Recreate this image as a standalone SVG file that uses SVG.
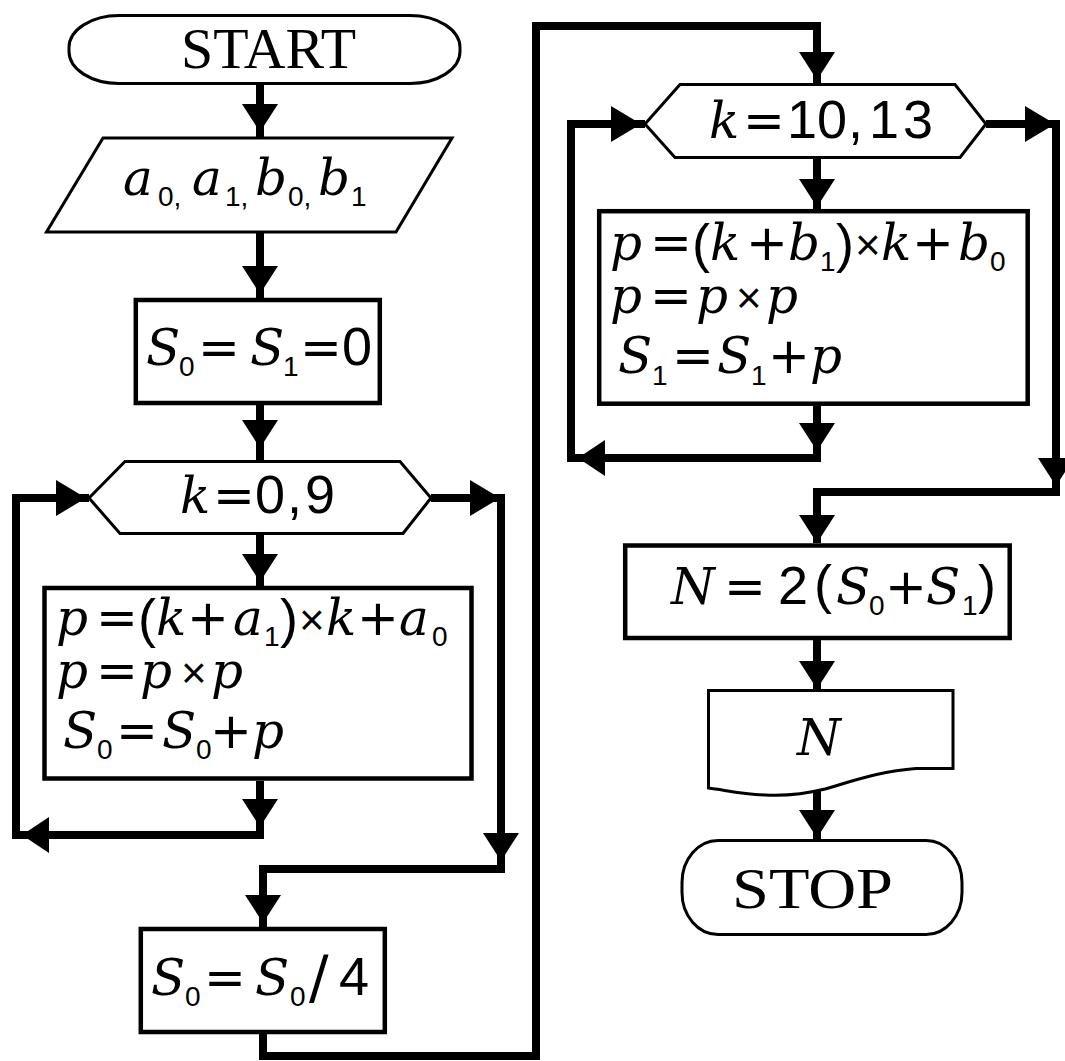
<svg xmlns="http://www.w3.org/2000/svg" xmlns:xlink="http://www.w3.org/1999/xlink" width="1065" height="1061" viewBox="0 0 1065 1061">
<style>
.sh{fill:#fff;stroke:#000;stroke-width:3}
.bx{fill:#fff;stroke:#000;stroke-width:4.5}
.cn{fill:none;stroke:#000;stroke-width:8;stroke-linejoin:miter}
.t{font-family:"Liberation Serif",serif;font-size:58px;fill:#000}
.v{font-family:"DejaVu Serif",serif;font-style:italic;font-size:50px;fill:#000}
.o{font-family:"DejaVu Sans",sans-serif;font-style:normal;font-size:50px}
.n{font-family:"Liberation Sans",sans-serif;font-style:normal;font-size:54px}
.x{font-family:"Liberation Sans",sans-serif;font-style:normal;font-size:44px}
.s{font-family:"Liberation Sans",sans-serif;font-style:normal;font-size:28px}
.p{font-family:"Liberation Sans",sans-serif;font-style:normal;font-size:54px}
.d{font-family:"DejaVu Sans",sans-serif;font-style:normal;font-size:58px}
</style>
<defs>
<path id="ad" d="M-18,0 H18 L0,28 Z"/>
<path id="ar" d="M0,-18 V18 L30,0 Z"/>
<path id="al" d="M0,-18 V18 L-27,0 Z"/>
</defs>
<rect width="1065" height="1061" fill="#fff"/>
<g id="connectors">
<path class="cn" d="M260,84 V137"/>
<path class="cn" d="M260,233 V298"/>
<path class="cn" d="M260,405 V460"/>
<path class="cn" d="M260,535 V586"/>
<path class="cn" d="M260,781 V835 H16 V498 H89"/>
<path class="cn" d="M431,498 H501 V869 H263 V927"/>
<path class="cn" d="M263,1034 V1056 H536 V26 H817 V84"/>
<path class="cn" d="M817,158 V209"/>
<path class="cn" d="M817,406 V458 H571 V124 H645"/>
<path class="cn" d="M986,124 H1056 V492 H817 V543"/>
<path class="cn" d="M817,640 V689"/>
<path class="cn" d="M817,790 V839"/>
<use xlink:href="#ad" x="260" y="104"/>
<use xlink:href="#ad" x="260" y="266"/>
<use xlink:href="#ad" x="260" y="420"/>
<use xlink:href="#ad" x="260" y="554"/>
<use xlink:href="#ad" x="260" y="799"/>
<use xlink:href="#ad" x="501" y="833"/>
<use xlink:href="#ad" x="263" y="895"/>
<use xlink:href="#ad" x="817" y="52"/>
<use xlink:href="#ad" x="817" y="179"/>
<use xlink:href="#ad" x="817" y="423"/>
<use xlink:href="#ad" x="1056" y="458"/>
<use xlink:href="#ad" x="817" y="515"/>
<use xlink:href="#ad" x="817" y="661"/>
<use xlink:href="#ad" x="817" y="810"/>
<use xlink:href="#ar" x="56" y="498"/>
<use xlink:href="#ar" x="470" y="498"/>
<use xlink:href="#ar" x="611" y="124"/>
<use xlink:href="#ar" x="1025" y="124"/>
<use xlink:href="#al" x="49" y="835"/>
<use xlink:href="#al" x="605" y="458"/>
</g>
<g id="start">
<rect class="sh" x="69" y="15.5" width="391" height="68" rx="50" ry="32"/>
<text class="t" x="181" y="68" textLength="175" lengthAdjust="spacingAndGlyphs">START</text>
</g>
<g id="input">
<path class="sh" d="M103,138 H452 L396,232 H46.5 Z"/>
<text class="v" y="195"><tspan x="123">a</tspan><tspan class="s" x="158" y="206">0,</tspan><tspan x="192" y="195">a</tspan><tspan class="s" x="225" y="206">1,</tspan><tspan x="255" y="195">b</tspan><tspan class="s" x="288" y="206">0,</tspan><tspan x="318" y="195">b</tspan><tspan class="s" x="351" y="206">1</tspan></text>
</g>
<g id="init">
<rect class="bx" x="135.8" y="300" width="244" height="103"/>
<text class="v" y="365"><tspan x="146">S</tspan><tspan class="s" x="179" y="376">0</tspan><tspan class="o" x="198" y="365">=</tspan><tspan x="250">S</tspan><tspan class="s" x="283" y="376">1</tspan><tspan class="o" x="300" y="365">=</tspan><tspan class="n" x="342">0</tspan></text>
</g>
<g id="loop1">
<path class="sh" d="M89,498 L125,461.5 H400 L431,498 L403,533.5 H120 Z"/>
<text class="v" y="513"><tspan x="180">k</tspan><tspan class="o" x="213">=</tspan><tspan class="n" x="255">0</tspan><tspan class="n" x="287">,</tspan><tspan class="n" x="305">9</tspan></text>
</g>
<g id="body1">
<rect class="bx" x="44.5" y="588" width="427" height="190.5"/>
<text class="v" y="635"><tspan x="56">p</tspan><tspan class="o" x="96">=</tspan><tspan class="p" x="138" y="637">(</tspan><tspan x="156" y="635">k</tspan><tspan class="o" x="187">+</tspan><tspan x="233">a</tspan><tspan class="s" x="264" y="646">1</tspan><tspan class="p" x="280" y="637">)</tspan><tspan class="x" x="299" y="635">×</tspan><tspan x="326">k</tspan><tspan class="o" x="357">+</tspan><tspan x="399">a</tspan><tspan class="s" x="432" y="646">0</tspan></text>
<text class="v" y="688"><tspan x="56">p</tspan><tspan class="o" x="96">=</tspan><tspan x="140">p</tspan><tspan class="x" x="181">×</tspan><tspan x="211">p</tspan></text>
<text class="v" y="748"><tspan x="63">S</tspan><tspan class="s" x="97" y="759">0</tspan><tspan class="o" x="116" y="748">=</tspan><tspan x="162">S</tspan><tspan class="s" x="196" y="759">0</tspan><tspan class="o" x="210" y="748">+</tspan><tspan x="252">p</tspan></text>
</g>
<g id="div">
<rect class="bx" x="140.8" y="929" width="244" height="103"/>
<text class="v" y="995"><tspan x="151">S</tspan><tspan class="s" x="185" y="1006">0</tspan><tspan class="o" x="204" y="995">=</tspan><tspan x="255">S</tspan><tspan class="s" x="290" y="1006">0</tspan><tspan class="d" x="309" y="998">/</tspan><tspan class="n" x="339" y="995">4</tspan></text>
</g>
<g id="loop2">
<path class="sh" d="M645,124 L680,84.5 H955 L986,124 L960,157.5 H675 Z"/>
<text class="v" y="138"><tspan x="709">k</tspan><tspan class="o" x="743">=</tspan><tspan class="n" x="787">1</tspan><tspan class="n" x="817">0</tspan><tspan class="n" x="848">,</tspan><tspan class="n" x="869">1</tspan><tspan class="n" x="903">3</tspan></text>
</g>
<g id="body2">
<rect class="bx" x="599.2" y="211.2" width="428.5" height="192.5"/>
<text class="v" y="260"><tspan x="610">p</tspan><tspan class="o" x="650">=</tspan><tspan class="p" x="692" y="262">(</tspan><tspan x="710" y="260">k</tspan><tspan class="o" x="746">+</tspan><tspan x="788">b</tspan><tspan class="s" x="820" y="271">1</tspan><tspan class="p" x="836" y="262">)</tspan><tspan class="x" x="855" y="260">×</tspan><tspan x="881">k</tspan><tspan class="o" x="912">+</tspan><tspan x="958">b</tspan><tspan class="s" x="990" y="271">0</tspan></text>
<text class="v" y="313"><tspan x="610">p</tspan><tspan class="o" x="650">=</tspan><tspan x="696">p</tspan><tspan class="x" x="736">×</tspan><tspan x="766">p</tspan></text>
<text class="v" y="373"><tspan x="618">S</tspan><tspan class="s" x="652" y="385">1</tspan><tspan class="o" x="672" y="373">=</tspan><tspan x="717">S</tspan><tspan class="s" x="751" y="385">1</tspan><tspan class="o" x="768" y="373">+</tspan><tspan x="810">p</tspan></text>
</g>
<g id="result">
<rect class="bx" x="625.2" y="545.5" width="384.5" height="92.5"/>
<text class="v" y="604"><tspan x="671">N</tspan><tspan class="o" x="724">=</tspan><tspan class="n" x="778">2</tspan><tspan class="p" x="814" y="603">(</tspan><tspan x="836" y="604">S</tspan><tspan class="s" x="869" y="615">0</tspan><tspan class="o" x="885" y="604">+</tspan><tspan x="926">S</tspan><tspan class="s" x="962" y="615">1</tspan><tspan class="p" x="978" y="603">)</tspan></text>
</g>
<g id="output">
<path class="sh" d="M708.5,690.5 H953 V768.5 H916 C880,771 850,782 825,789 C805,794 785,796 765,795 C740,794 725,790 708.5,788 Z"/>
<text class="v" x="797" y="755">N</text>
</g>
<g id="stop">
<rect class="sh" x="682" y="840.5" width="280" height="94" rx="36" ry="42"/>
<text class="t" x="732" y="908" textLength="161" lengthAdjust="spacingAndGlyphs">STOP</text>
</g>
</svg>
